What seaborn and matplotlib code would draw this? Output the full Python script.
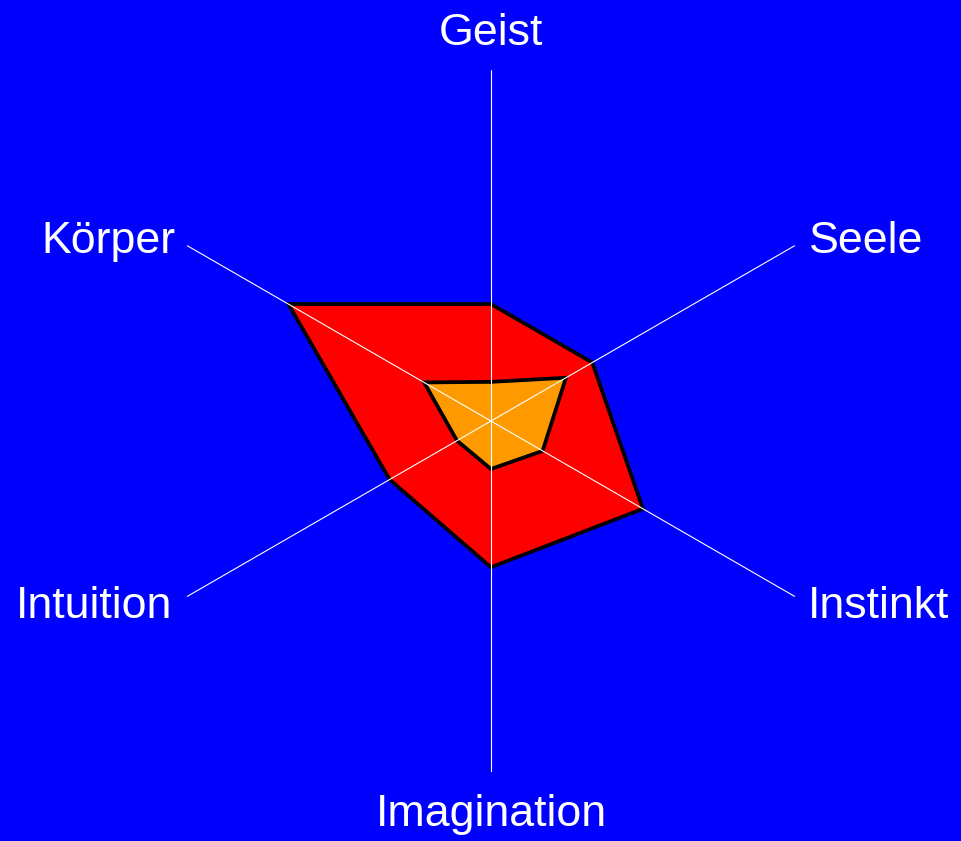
import numpy as np
import pandas as pd
import matplotlib
matplotlib.use("Agg")
import matplotlib.pyplot as plt
import seaborn as sns

# --- DATEN --------------------------------------------------------------------

KATEGORIEN = ["Geist", "Seele", "Instinkt", "Imagination", "Intuition", "Körper"]
AUSSEN     = [2.0, 2.0, 3.0, 2.5, 2.0, 4.0]     # rotes Polygon
INNEN      = [0.67, 1.48, 1.02, 0.82, 0.67, 1.32]  # oranges Polygon
R_MAX      = 6.0

# --- STIL ---------------------------------------------------------------------

BLAU   = "#0000FF"
ROT    = "#FF0000"
ORANGE = "#FF9900"

sns.set_theme(style="white")
plt.rcParams["font.family"] = ["Liberation Sans", "DejaVu Sans"]

fig = plt.figure(figsize=(9.62, 8.41), dpi=100, facecolor=BLAU)
ax = fig.add_axes([0.1455, 0.0820, 0.7297, 0.8347], projection="polar")
ax.set_facecolor(BLAU)
ax.set_theta_offset(np.pi / 2)
ax.set_theta_direction(-1)

winkel = np.linspace(0, 2 * np.pi, len(KATEGORIEN), endpoint=False)


def polygon(werte, farbe):
    df = pd.DataFrame({
        "theta": np.append(winkel, winkel[0]),
        "r":     np.append(werte, werte[0]),
    })
    ax.fill(df["theta"], df["r"], color=farbe, zorder=1)
    sns.lineplot(data=df, x="theta", y="r", sort=False, estimator=None,
                 color="black", linewidth=2.7, ax=ax, zorder=2,
                 solid_joinstyle="miter")


polygon(AUSSEN, ROT)
polygon(INNEN, ORANGE)

ax.set_ylim(0, R_MAX)
ax.set_yticks([])
ax.set_xticks(winkel)
ax.set_xticklabels([])
ax.xaxis.grid(True, color="white", linewidth=0.8)
ax.yaxis.grid(False)
ax.set_axisbelow(False)
ax.spines["polar"].set_visible(False)
ax.set_xlabel("")
ax.set_ylabel("")

# Beschriftungen (Versatz in Punkten relativ zum Speichenende)
versatz = {
    "Geist":       ((0, 18),      "center"),
    "Seele":       ((10.4, -5.6), "left"),
    "Instinkt":    ((9.0, -15.3), "left"),
    "Imagination": ((0, -39),     "center"),
    "Intuition":   ((-10.8, -15.3), "right"),
    "Körper":      ((-8.6, -5.6), "right"),
}
for w, name in zip(winkel, KATEGORIEN):
    off, ha = versatz[name]
    ax.annotate(name, xy=(w, R_MAX), xytext=off, textcoords="offset points",
                ha=ha, va="baseline", color="white", fontsize=32.2,
                annotation_clip=False)

plt.savefig("out.png", facecolor=BLAU)
plt.close()
